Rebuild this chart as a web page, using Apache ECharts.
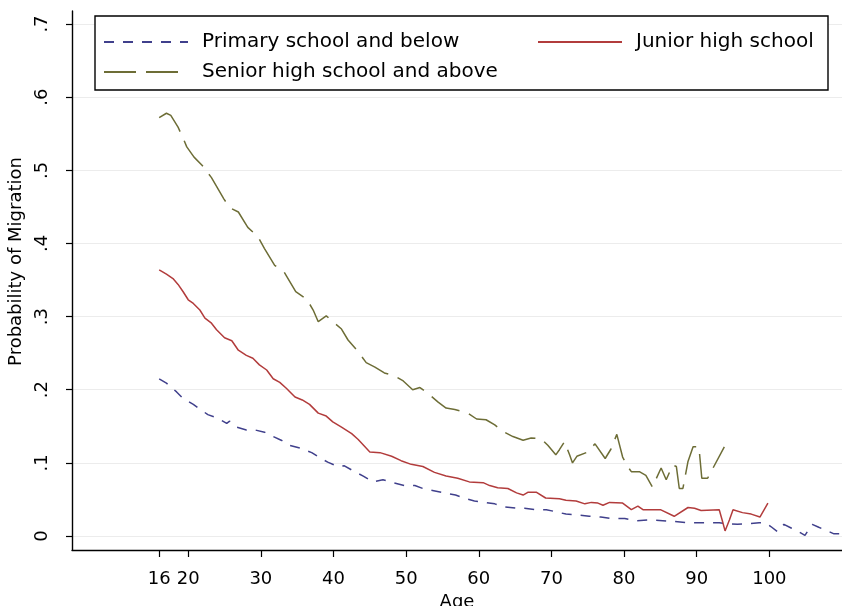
<!DOCTYPE html>
<html>
<head>
<meta charset="utf-8">
<script src="https://cdn.jsdelivr.net/npm/echarts@6/dist/echarts.min.js"></script>
<style>html,body{margin:0;padding:0;background:#fff}#c{width:842px;height:606px}</style>
</head>
<body>
<div id="c"></div>
<script>
var seriesNames = ['Primary school and below', 'Junior high school', 'Senior high school and above'];

var primaryAge = [16,17,18.4,19.3,20.7,21.4,22.7,24.1,25.3,25.7,26.6,28.0,29.2,30.5,31.7,32.8,33.9,35.5,37.0,38.3,39.2,40.6,41.5,42.9,44.1,45.4,46.8,48.2,49.8,51.2,52.3,53.8,55.3,56.8,58.2,59.4,60.8,62.2,63.5,65.2,66.3,67.7,69.3,70.7,72.0,73.6,75.2,76.8,78.2,80.1,81.7,83.6,86.7,89.0,93.1,94.0,95.6,97.2,98.6,99.5,100.2,101.1,102.0,103.0,104.0,104.9,105.9,106.8,108.0,108.9,109.8];
var primaryProb = [.215,.209,.197,.188,.180,.175,.166,.161,.154,.157,.149,.145,.145,.142,.136,.131,.124,.120,.114,.106,.101,.095,.096,.088,.082,.074,.077,.073,.069,.069,.065,.062,.059,.056,.051,.048,.046,.044,.040,.038,.038,.036,.036,.033,.030,.029,.027,.026,.024,.024,.021,.022,.020,.018,.018,.017,.016,.017,.018,.018,.013,.006,.016,.011,.006,.001,.016,.012,.007,.003,.003];

var juniorAge = [16,17,17.9,18.6,19.3,20.0,20.7,21.6,22.3,23.2,23.9,25.0,26.0,26.9,28.0,28.9,29.8,30.8,31.7,32.6,33.5,34.7,35.7,36.7,37.9,39.0,39.9,41.1,42.5,43.4,45.0,46.4,48.0,49.3,50.7,52.3,53.9,55.5,57.1,58.7,60.6,61.5,62.6,64.0,65.2,66.1,66.8,67.9,69.2,71.1,72.0,73.4,74.6,75.5,76.4,77.1,78.0,79.8,81.0,81.9,82.6,85.0,86.9,88.8,89.7,90.6,93.1,93.5,93.9,94.5,95.0,96.3,97.5,98.7,99.8];
var juniorProb = [.364,.358,.352,.344,.334,.323,.318,.309,.298,.291,.282,.271,.267,.254,.247,.243,.234,.227,.215,.210,.202,.190,.186,.180,.168,.164,.156,.149,.140,.132,.115,.114,.109,.103,.098,.095,.087,.082,.079,.074,.073,.069,.066,.065,.059,.056,.060,.060,.052,.051,.049,.048,.044,.046,.045,.042,.046,.045,.036,.041,.036,.036,.027,.039,.038,.035,.036,.022,.007,.022,.036,.032,.030,.026,.045];

var seniorAge = [16,17,17.6,18.6,19.3,19.8,20.8,21.9,23.2,24.2,24.9,25.7,26.9,28.2,29.6,30.5,31.9,33.2,34.8,36.3,37.2,37.9,39.0,41.1,42.0,43.4,44.5,45.7,47.0,48.4,49.6,50.9,51.9,53.0,54.4,55.5,56.7,58.5,59.7,61.0,62.2,63.3,64.7,66.1,67.2,68.6,69.5,70.6,71.1,71.8,72.5,72.9,73.5,74.8,76.0,77.4,78.2,79.0,79.8,80.5,81.0,82.1,83.0,83.9,85.1,85.8,86.7,87.2,87.6,88.1,88.8,89.5,90.3,90.7,91.5,93.8];
var seniorProb = [.572,.578,.575,.559,.544,.532,.518,.507,.490,.473,.461,.449,.443,.422,.409,.393,.370,.361,.334,.324,.309,.293,.301,.283,.268,.252,.237,.231,.223,.219,.212,.200,.203,.195,.183,.175,.173,.168,.160,.159,.152,.143,.136,.131,.134,.133,.124,.111,.118,.129,.111,.100,.109,.114,.126,.106,.119,.139,.108,.095,.088,.088,.083,.067,.093,.077,.097,.095,.065,.065,.102,.122,.122,.079,.079,.122];

var xTickValues = [16,20,30,40,50,60,70,80,90,100];
var yTickValues = [0,.1,.2,.3,.4,.5,.6,.7];
var yTickLabels = ['0','.1','.2','.3','.4','.5','.6','.7'];

function zip(a, b) { return a.map(function (v, i) { return [v, b[i]]; }); }

var FONT = 'DejaVu Sans';
var chart = echarts.init(document.getElementById('c'), null, {renderer: 'canvas'});
chart.setOption({
  backgroundColor: '#ffffff',
  animation: false,
  grid: {left: 72, right: 0, top: 11, bottom: 56, containLabel: false, outerBoundsMode: 'none'},
  xAxis: {
    type: 'value', min: 4, max: 110,
    name: 'Age', nameLocation: 'middle', nameGap: 43,
    nameTextStyle: {fontFamily: FONT, fontSize: 18, color: '#000'},
    axisLine: {show: true, onZero: false, lineStyle: {color: '#000', width: 1.4}},
    axisTick: {show: true, length: 7, customValues: xTickValues, lineStyle: {color: '#000', width: 1.2}},
    axisLabel: {customValues: xTickValues, margin: 20, fontFamily: FONT, fontSize: 18, color: '#000'},
    splitLine: {show: false}
  },
  yAxis: {
    type: 'value', min: -0.0191, max: 0.7178,
    name: 'Probability of Migration', nameLocation: 'middle', nameGap: 38,
    nameTextStyle: {fontFamily: FONT, fontSize: 18, color: '#000', padding: [0, 0, 0, 38]},
    axisLine: {show: true, onZero: false, lineStyle: {color: '#000', width: 1.4}},
    axisTick: {show: true, length: 6, customValues: yTickValues, lineStyle: {color: '#000', width: 1.2}},
    axisLabel: {customValues: yTickValues, rotate: 90, margin: 21, fontFamily: FONT, fontSize: 18, color: '#000',
      formatter: function (v) { var i = yTickValues.indexOf(v); return i >= 0 ? yTickLabels[i] : ''; }},
    splitLine: {show: true, lineStyle: {color: '#ececec', width: 1}}
  },
  graphic: [{
    type: 'rect', z: 10,
    shape: {x: 95, y: 16, width: 733, height: 74},
    style: {fill: '#ffffff', stroke: '#000', lineWidth: 1.4}
  }],
  legend: [{
    z: 20, data: [seriesNames[0], seriesNames[2]], orient: 'vertical',
    left: 103, top: 32, padding: 0, itemGap: 10, itemWidth: 84, itemHeight: 14,
    itemStyle: {opacity: 0},
    textStyle: {fontFamily: FONT, fontSize: 20, color: '#000', padding: [0, 0, 0, 9]}
  }, {
    z: 20, data: [seriesNames[1]], orient: 'vertical',
    left: 537, top: 32, padding: 0, itemWidth: 84, itemHeight: 14,
    itemStyle: {opacity: 0},
    textStyle: {fontFamily: FONT, fontSize: 20, color: '#000', padding: [0, 0, 0, 9]}
  }],
  series: [{
    name: seriesNames[0], type: 'line', symbol: 'none', data: zip(primaryAge, primaryProb),
    lineStyle: {color: '#40408c', width: 1.5, type: [10, 9]}, itemStyle: {color: '#40408c'}
  }, {
    name: seriesNames[1], type: 'line', symbol: 'none', data: zip(juniorAge, juniorProb),
    lineStyle: {color: '#b23c3c', width: 1.5, type: 'solid'}, itemStyle: {color: '#b23c3c'}
  }, {
    name: seriesNames[2], type: 'line', symbol: 'none', data: zip(seniorAge, seniorProb),
    lineStyle: {color: '#6d6d36', width: 1.5, type: [32, 10]}, itemStyle: {color: '#6d6d36'}
  }]
});
</script>
</body>
</html>
